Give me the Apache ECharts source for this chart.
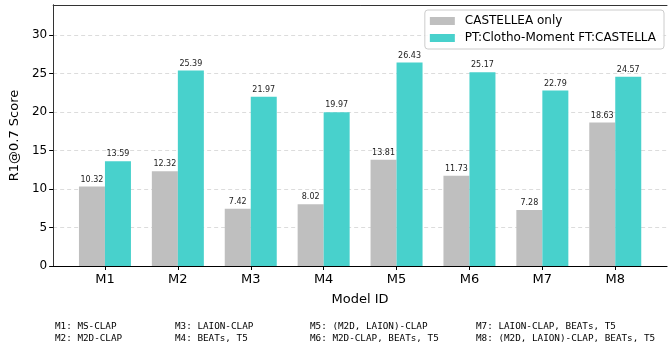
<!DOCTYPE html>
<html>
<head>
<meta charset="utf-8">
<script src="https://cdn.jsdelivr.net/npm/echarts@6/dist/echarts.min.js"></script>
<style>
  html, body { margin: 0; padding: 0; background: #fff; }
  #chart { width: 670px; height: 350px; }
</style>
</head>
<body>
<div id="chart"></div>
<script>
const models = ['M1', 'M2', 'M3', 'M4', 'M5', 'M6', 'M7', 'M8']
const castelleaOnly = [10.32, 12.32, 7.42, 8.02, 13.81, 11.73, 7.28, 18.63]
const ptClotho = [13.59, 25.39, 21.97, 19.97, 26.43, 25.17, 22.79, 24.57]
const yTicks = [0, 5, 10, 15, 20, 25, 30]
const footnotes = [
  ['M1: MS-CLAP', 'M2: M2D-CLAP'],
  ['M3: LAION-CLAP', 'M4: BEATs, T5'],
  ['M5: (M2D, LAION)-CLAP', 'M6: M2D-CLAP, BEATs, T5'],
  ['M7: LAION-CLAP, BEATs, T5', 'M8: (M2D, LAION)-CLAP, BEATs, T5'],
]

const font = 'DejaVu Sans'
const yMax = 33.9
const chart = echarts.init(document.getElementById('chart'))

// footnote columns under the plot
const noteX = [55, 175, 310, 476]
const noteGraphics = []
footnotes.forEach((col, i) => {
  col.forEach((txt, j) => {
    noteGraphics.push({
      type: 'text',
      left: noteX[i],
      top: 322 + j * 12,
      style: { text: txt, font: '9.3px "DejaVu Sans Mono"', fill: '#000' },
    })
  })
})

const barLabel = {
  show: true,
  position: 'top',
  distance: 3,
  fontSize: 8,
  fontFamily: font,
  color: '#222',
  formatter: p => p.value.toFixed(2),
}

const option = {
  animation: false,
  backgroundColor: '#fff',
  textStyle: { fontFamily: font },
  legend: {
    right: 6,
    top: 10,
    orient: 'vertical',
    icon: 'rect',
    itemWidth: 25,
    itemHeight: 8,
    itemGap: 5,
    padding: [5, 8, 5, 5],
    borderColor: '#cccccc',
    borderWidth: 1,
    borderRadius: 3,
    backgroundColor: 'rgba(255,255,255,0.85)',
    textStyle: { fontSize: 12, fontFamily: font, color: '#000', padding: [0, 0, 0, 5] },
    data: ['CASTELLEA only', 'PT:Clotho-Moment FT:CASTELLA'],
  },
  grid: [
    // frame + y axis
    { left: 52, right: 3, top: 5, bottom: 84 },
    // bars
    { left: 68.5, right: 18.3, top: 5, bottom: 84 },
  ],
  xAxis: [
    {
      gridIndex: 0,
      type: 'value',
      min: 0,
      max: 1,
      axisLine: { show: true, onZero: false, lineStyle: { color: '#000', width: 1.2 } },
      axisTick: { show: false },
      axisLabel: { show: false },
      splitLine: { show: false },
      name: 'Model ID',
      nameLocation: 'middle',
      nameGap: 27,
      nameTextStyle: { fontSize: 13, fontFamily: font, color: '#000' },
    },
    {
      gridIndex: 0,
      type: 'value',
      position: 'top',
      min: 0,
      max: 1,
      axisLine: { show: true, onZero: false, lineStyle: { color: '#333' } },
      axisTick: { show: false },
      axisLabel: { show: false },
      splitLine: { show: false },
    },
    {
      gridIndex: 1,
      type: 'category',
      data: models,
      axisLine: { show: false },
      axisTick: { show: true, alignWithLabel: true, length: 4, lineStyle: { color: '#000' } },
      axisLabel: { fontSize: 13, fontFamily: font, color: '#000', margin: 7 },
    },
  ],
  yAxis: [
    {
      gridIndex: 0,
      type: 'value',
      min: 0,
      max: yMax,
      interval: 5,
      axisLine: { show: true, lineStyle: { color: '#333' } },
      axisTick: { show: true, length: 4, lineStyle: { color: '#000' } },
      axisLabel: {
        fontSize: 12,
        fontFamily: font,
        color: '#000',
        margin: 6,
        showMaxLabel: false,
        formatter: v => (yTicks.includes(v) ? String(v) : ''),
      },
      splitLine: { show: true, lineStyle: { color: '#dcdcdc', type: [4, 3] } },
      name: 'R1@0.7 Score',
      nameLocation: 'middle',
      nameGap: 23,
      nameTextStyle: { fontSize: 13, fontFamily: font, color: '#000' },
    },
    {
      gridIndex: 0,
      type: 'value',
      position: 'right',
      min: 0,
      max: 1,
      axisLine: { show: true, lineStyle: { color: '#333' } },
      axisTick: { show: false },
      axisLabel: { show: false },
      splitLine: { show: false },
    },
    {
      gridIndex: 1,
      type: 'value',
      min: 0,
      max: yMax,
      show: false,
    },
  ],
  series: [
    {
      name: 'CASTELLEA only',
      type: 'bar',
      xAxisIndex: 2,
      yAxisIndex: 2,
      data: castelleaOnly,
      barWidth: 26,
      barGap: '0%',
      itemStyle: { color: '#bfbfbf' },
      label: barLabel,
    },
    {
      name: 'PT:Clotho-Moment FT:CASTELLA',
      type: 'bar',
      xAxisIndex: 2,
      yAxisIndex: 2,
      data: ptClotho,
      barWidth: 26,
      barGap: '0%',
      itemStyle: { color: '#48d1cc' },
      label: barLabel,
    },
  ],
  graphic: noteGraphics,
}

chart.setOption(option)
</script>
</body>
</html>
